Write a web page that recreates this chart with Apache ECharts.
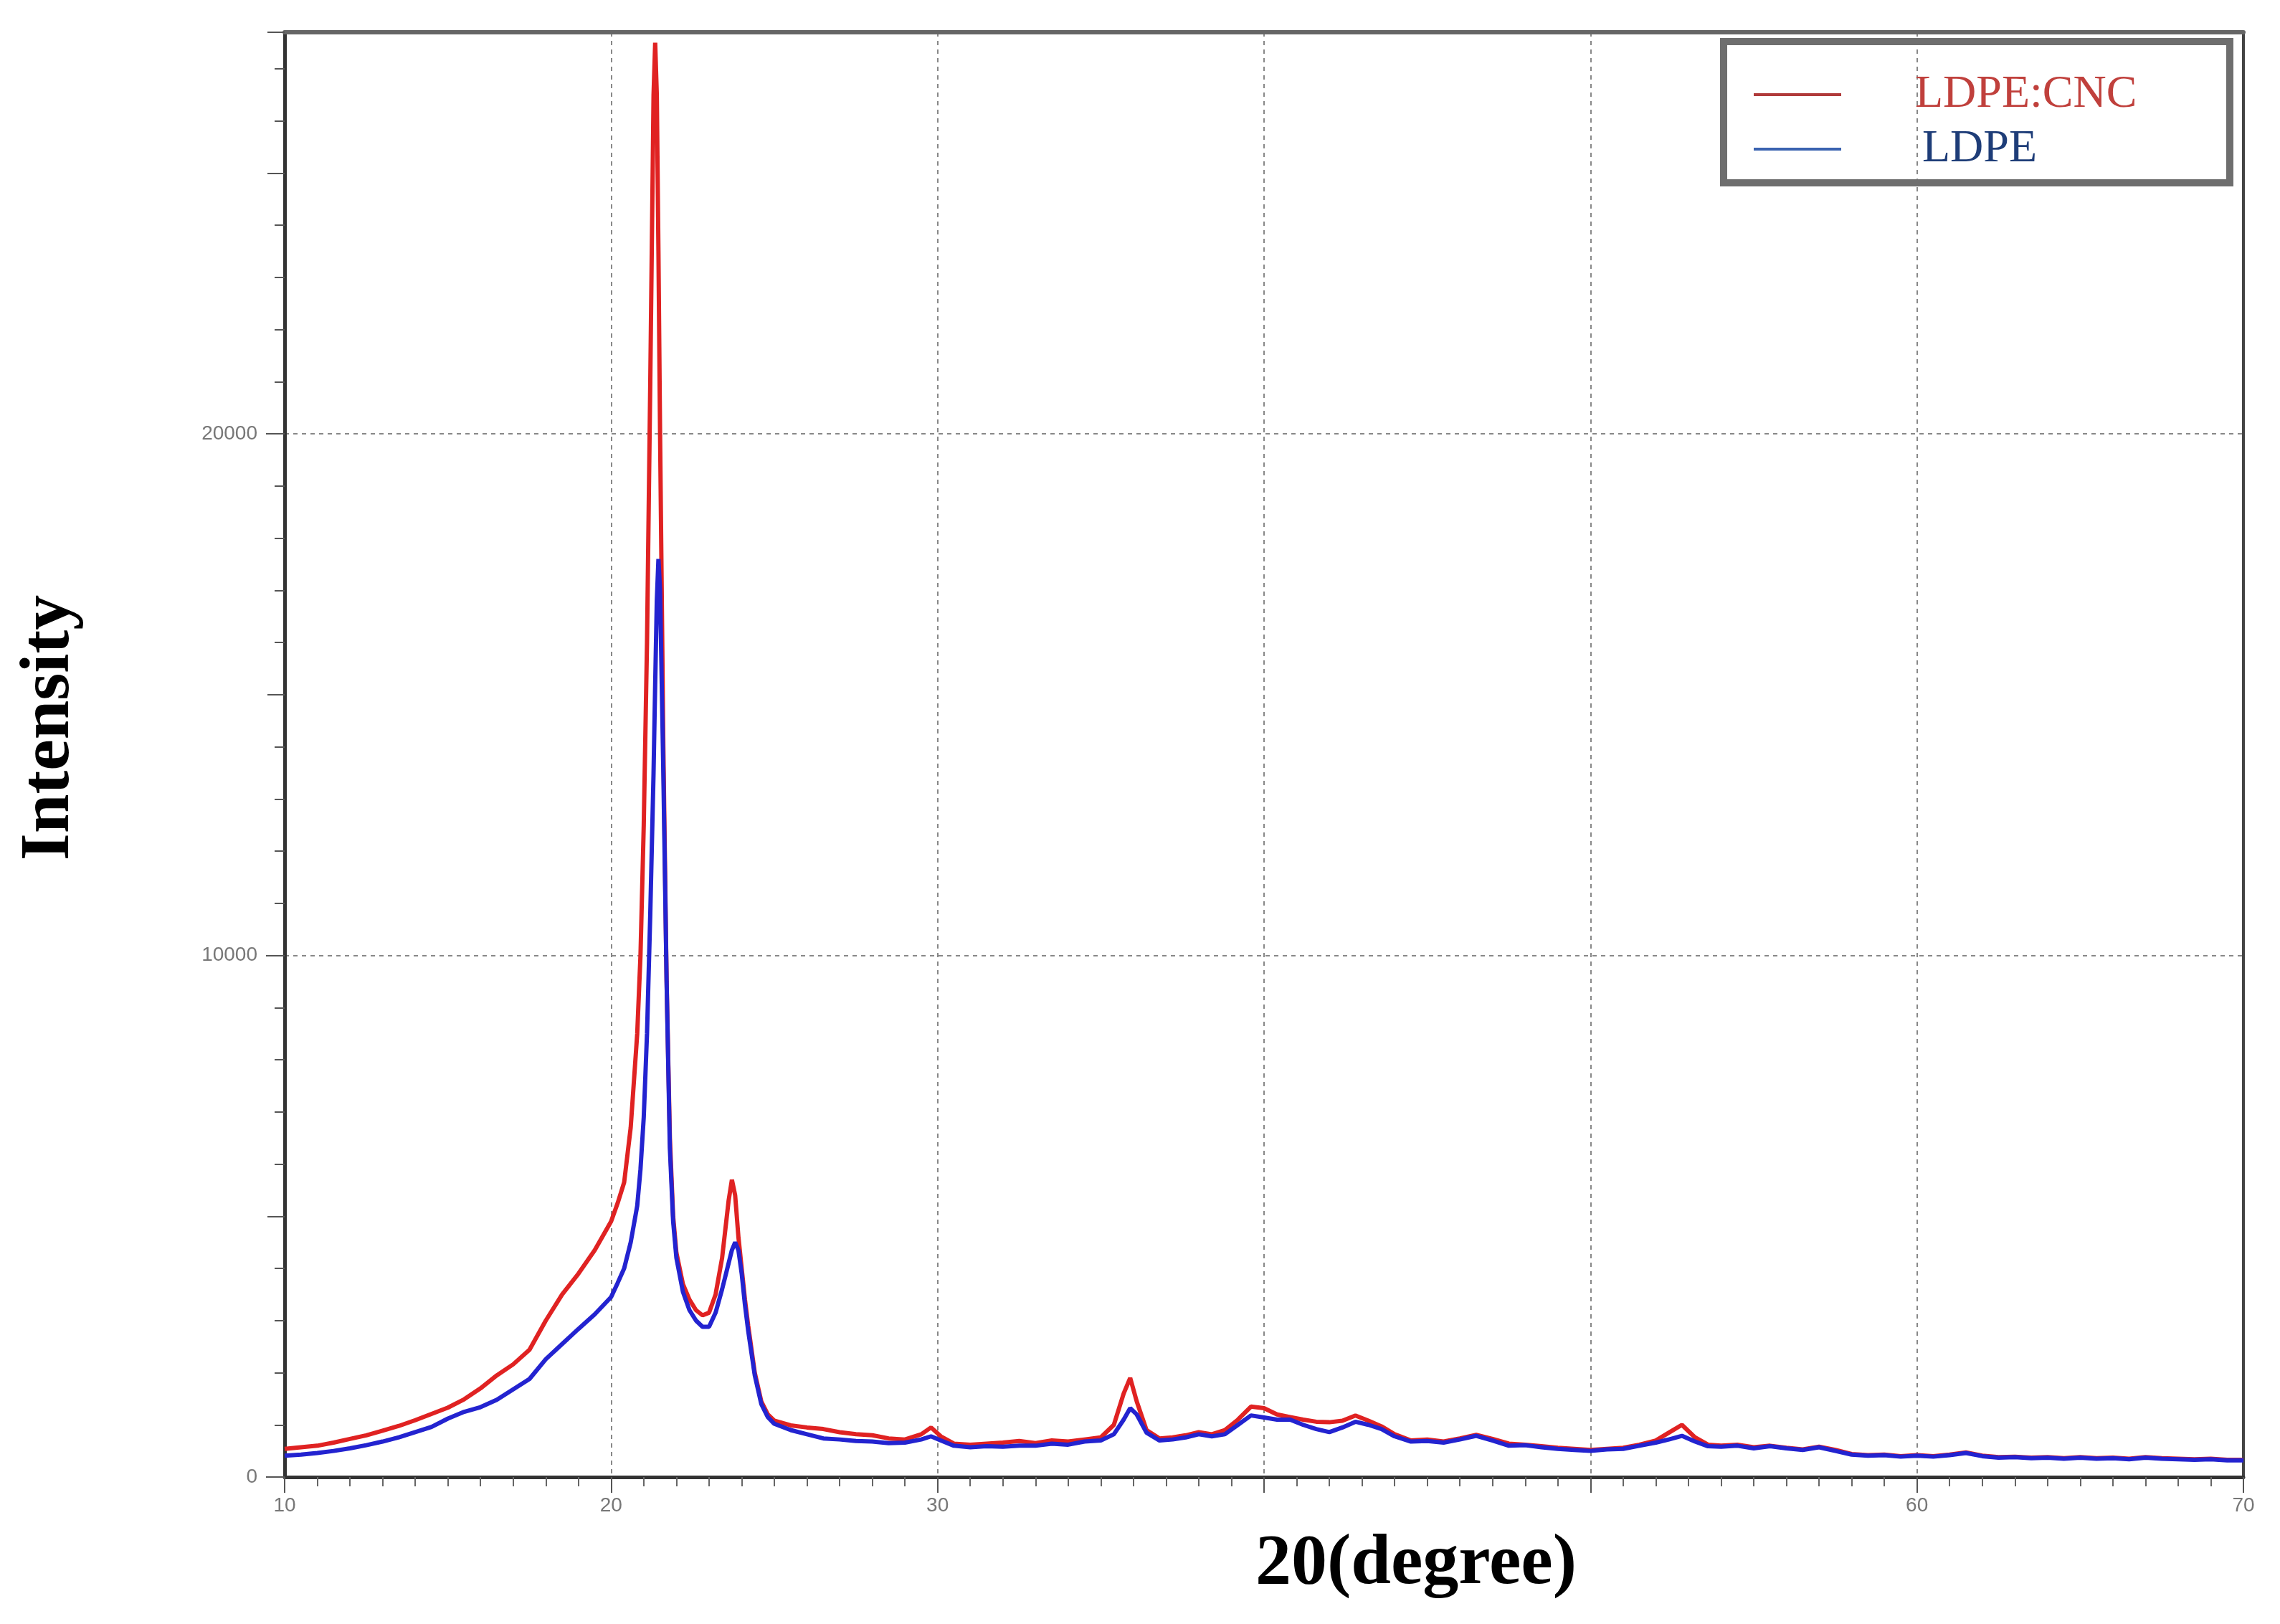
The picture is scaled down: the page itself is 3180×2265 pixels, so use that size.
<!DOCTYPE html>
<html>
<head>
<meta charset="utf-8">
<script src="https://cdn.jsdelivr.net/npm/echarts@6/dist/echarts.min.js"></script>
<style>
html,body{margin:0;padding:0;background:#fff;}
#chart{width:3180px;height:2265px;}
</style>
</head>
<body>
<div id="chart"></div>
<script>
// 2θ positions (degree)
const twoTheta = [
 10,10.5,11,11.5,12,12.5,13,13.5,14,14.5,15,15.5,16,16.5,17,17.5,18,18.5,19,19.5,20,
 20.2,20.4,20.6,20.8,20.9,21.0,21.1,21.2,21.3,21.35,21.4,21.45,21.5,21.6,21.7,21.8,21.9,22.0,
 22.2,22.4,22.6,22.8,23.0,23.2,23.4,23.6,23.7,23.8,23.9,24.0,24.1,24.2,24.4,24.6,24.8,25.0,
 25.5,26,26.5,27,27.5,28,28.5,29,29.5,29.8,30.1,30.5,31,31.5,32,32.5,33,33.5,34,34.5,35,
 35.4,35.7,35.9,36.1,36.4,36.8,37.2,37.6,38,38.4,38.8,39.2,39.6,40.0,40.4,40.8,41.2,41.6,
 42.0,42.4,42.8,43.2,43.6,44.0,44.5,45,45.5,46,46.5,47,47.5,48,48.5,49,49.5,50,50.5,51,51.5,
 52,52.4,52.8,53.2,53.6,54,54.5,55,55.5,56,56.5,57,57.5,58,58.5,59,59.5,60,60.5,61,61.5,
 62,62.5,63,63.5,64,64.5,65,65.5,66,66.5,67,67.5,68,68.5,69,69.5,70
];
// LDPE:CNC intensity
const ldpeCnc = [
 540,570,600,660,730,800,890,980,1090,1210,1330,1490,1700,1950,2160,2440,3000,3500,3900,4350,4900,
 5250,5650,6700,8500,10000,12500,16000,21000,26500,27500,26500,23500,20000,14000,9500,6500,5000,4300,
 3700,3400,3200,3100,3150,3500,4200,5300,5700,5400,4600,4000,3400,2900,2000,1450,1200,1080,
 990,950,920,860,820,800,740,720,820,950,780,640,620,640,660,690,650,700,680,720,760,
 1000,1600,1900,1450,900,740,760,800,860,820,900,1100,1350,1320,1200,1150,1100,1060,
 1050,1080,1180,1080,970,820,700,720,680,740,810,730,640,620,590,560,540,520,540,560,620,
 700,850,1000,760,620,600,620,570,600,560,530,580,520,440,420,430,400,420,400,430,470,
 410,380,390,370,380,360,380,360,370,350,380,360,350,340,350,330,330
];
// LDPE intensity
const ldpe = [
 410,430,460,500,550,610,680,760,860,960,1120,1250,1340,1480,1680,1880,2260,2550,2840,3120,3450,
 3720,4000,4500,5200,5900,6900,8500,10800,13500,15200,16800,17600,17000,13500,9500,6300,4900,4200,
 3550,3200,3000,2880,2880,3150,3600,4100,4350,4500,4350,3900,3300,2800,1950,1400,1150,1020,
 900,820,740,720,690,680,650,660,720,780,700,600,570,590,580,600,600,640,620,680,700,
 820,1100,1320,1200,850,700,720,760,820,780,820,1000,1180,1140,1100,1100,1000,920,
 860,950,1060,1000,920,780,680,690,660,720,790,700,600,610,570,540,520,500,530,540,600,
 660,720,790,680,590,580,600,550,590,550,520,570,500,430,410,420,390,410,390,420,460,
 400,370,380,360,370,350,370,350,360,340,370,350,340,330,340,320,320
];
const seriesNames = ['LDPE:CNC', 'LDPE'];
const xTickLabels = {10:'10', 20:'20', 30:'30', 60:'60', 70:'70'};
const yTickLabels = {0:'0', 10000:'10000', 20000:'20000'};

const X_MIN = 10, X_MAX = 70, Y_MIN = 0, Y_MAX = 27700;

const redData = twoTheta.map((x, i) => [x, ldpeCnc[i]]);
const blueData = twoTheta.map((x, i) => [x, ldpe[i]]);

const chart = echarts.init(document.getElementById('chart'), null, {renderer: 'canvas'});

const hiddenY = (interval, len) => ({
  type: 'value', position: 'left', min: Y_MIN, max: Y_MAX, interval: interval,
  axisLine: {show: false}, axisLabel: {show: false}, splitLine: {show: false},
  axisTick: {show: true, inside: false, length: len, lineStyle: {color: '#555', width: 2}}
});

const option = {
  animation: false,
  backgroundColor: '#ffffff',
  grid: {left: 397, right: 51, top: 45, bottom: 205, containLabel: false},
  xAxis: [
    {
      type: 'value', min: X_MIN, max: X_MAX, interval: 10, position: 'bottom',
      axisLine: {show: true, onZero: false, lineStyle: {color: '#333', width: 5}},
      axisTick: {show: true, inside: false, length: 22, lineStyle: {color: '#555', width: 2}},
      minorTick: {show: true, splitNumber: 10, length: 13, lineStyle: {color: '#666', width: 2}},
      axisLabel: {
        show: true, margin: 26, color: '#777', fontSize: 28, fontFamily: 'Liberation Sans',
        formatter: v => xTickLabels[v] !== undefined ? xTickLabels[v] : ''
      },
      splitLine: {show: true, lineStyle: {color: '#888', width: 2, type: [6, 6]}}
    },
    {
      type: 'value', min: X_MIN, max: X_MAX, position: 'top',
      axisLine: {show: true, onZero: false, lineStyle: {color: '#666', width: 6}},
      axisTick: {show: false}, axisLabel: {show: false}, splitLine: {show: false}
    }
  ],
  yAxis: [
    {
      type: 'value', min: Y_MIN, max: Y_MAX, interval: 10000, position: 'left',
      axisLine: {show: true, onZero: false, lineStyle: {color: '#333', width: 5}},
      axisTick: {show: true, inside: false, length: 26, lineStyle: {color: '#555', width: 2}},
      axisLabel: {
        show: true, margin: 38, color: '#777', fontSize: 28, fontFamily: 'Liberation Sans',
        showMaxLabel: false,
        formatter: v => yTickLabels[v] !== undefined ? yTickLabels[v] : ''
      },
      splitLine: {show: true, lineStyle: {color: '#888', width: 2, type: [6, 6]}}
    },
    hiddenY(5000, 24),
    hiddenY(1000, 14),
    {
      type: 'value', min: Y_MIN, max: Y_MAX, position: 'right',
      axisLine: {show: true, onZero: false, lineStyle: {color: '#444', width: 4}},
      axisTick: {show: false}, axisLabel: {show: false}, splitLine: {show: false}
    }
  ],
  legend: {
    show: true, orient: 'vertical', left: 2441, top: 94,
    icon: 'rect', itemWidth: 122, itemHeight: 4, itemGap: 10,
    textStyle: {fontFamily: 'Liberation Serif', fontSize: 64, lineHeight: 66, padding: [0, 0, 0, 98]},
    data: [
      {name: seriesNames[0], itemStyle: {color: '#b03a3a'}, textStyle: {color: '#c0403c'}},
      {name: seriesNames[1], itemStyle: {color: '#3a62b0'}, textStyle: {color: '#1e3d78', padding: [0, 0, 0, 108]}}
    ]
  },
  graphic: [
    {
      type: 'rect', z: 5,
      shape: {x: 2404, y: 58, width: 706, height: 197},
      style: {fill: 'rgba(255,255,255,0)', stroke: '#6e6e6e', lineWidth: 10}
    },
    {
      type: 'text', z: 10, x: 70, y: 1015, rotation: Math.PI / 2,
      style: {
        text: 'Intensity', fill: '#000', font: 'bold 98px "Liberation Serif"',
        textAlign: 'center', textVerticalAlign: 'middle'
      }
    },
    {
      type: 'text', z: 10, x: 1975, y: 2182,
      style: {
        text: '20(degree)', fill: '#000', font: 'bold 100px "Liberation Serif"',
        textAlign: 'center', textVerticalAlign: 'middle'
      }
    }
  ],
  series: [
    {
      name: seriesNames[0], type: 'line', xAxisIndex: 0, yAxisIndex: 0,
      data: redData, showSymbol: false, symbol: 'none', smooth: false,
      lineStyle: {color: '#e02222', width: 6},
      itemStyle: {color: '#e02222'}, z: 3
    },
    {
      name: seriesNames[1], type: 'line', xAxisIndex: 0, yAxisIndex: 0,
      data: blueData, showSymbol: false, symbol: 'none', smooth: false,
      lineStyle: {color: '#2323d0', width: 6},
      itemStyle: {color: '#2323d0'}, z: 4
    }
  ]
};
chart.setOption(option);
</script>
</body>
</html>
